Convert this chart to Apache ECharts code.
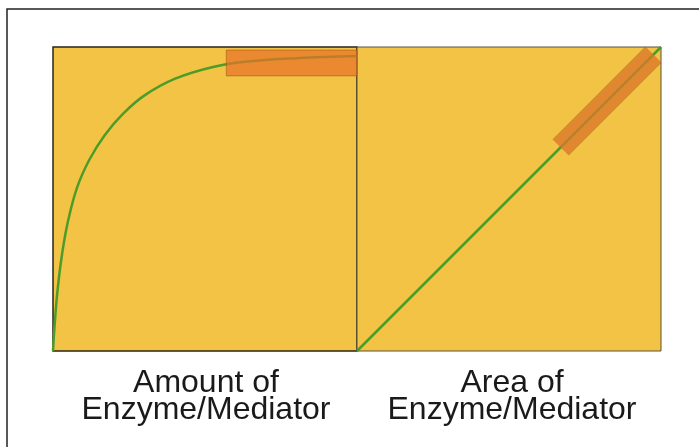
<!DOCTYPE html>
<html>
<head>
<meta charset="utf-8">
<script src="https://cdn.jsdelivr.net/npm/echarts@6/dist/echarts.min.js"></script>
<style>
html, body { margin: 0; padding: 0; background: #fff; }
#chart { width: 699px; height: 447px; }
</style>
</head>
<body>
<div id="chart"></div>
<script>
// saturation curve (left panel), values in % of axis
var curveX = [0, 0.5, 1.5, 3, 5, 8, 12, 17, 23, 30, 40, 53, 65, 80, 100]
var curveY = [0, 8, 20, 32, 43, 54, 63, 71, 78, 84, 89.5, 93.5, 95.3, 96.3, 97]
// linear response (right panel)
var lineX = [0, 100]
var lineY = [0, 100]
// highlighted ranges
var bandLeft = [[57, 90.5], [100, 99]]
var bandRight = [[67, 67], [97.5, 97.5]]
var labels = [['Amount of', 'Enzyme/Mediator'], ['Area of', 'Enzyme/Mediator']]

var yellow = '#F2C344'
var green = '#4C9C2A'
var orange = 'rgba(230,115,40,0.72)'

function zip (xs, ys) {
  return xs.map(function (x, i) { return [x, ys[i]] })
}

var chart = echarts.init(document.getElementById('chart'))

function axisPair (idx) {
  return {
    x: { type: 'value', gridIndex: idx, min: 0, max: 100, show: false },
    y: { type: 'value', gridIndex: idx, min: 0, max: 100, show: false }
  }
}
var a0 = axisPair(0)
var a1 = axisPair(1)

var option = {
  animation: false,
  grid: [
    { left: 53, top: 47, width: 304, height: 304, show: true, backgroundColor: yellow, borderColor: '#2b2418', borderWidth: 1.5 },
    { left: 357, top: 47, width: 304, height: 304, show: true, backgroundColor: yellow, borderColor: '#5a5040', borderWidth: 1 }
  ],
  xAxis: [a0.x, a1.x],
  yAxis: [a0.y, a1.y],
  graphic: [
    { type: 'rect', shape: { x: 7, y: 9, width: 720, height: 460 }, style: { fill: 'none', stroke: '#222', lineWidth: 1.5 }, z: 100 }
  ],
  series: [
    {
      type: 'line',
      xAxisIndex: 0,
      yAxisIndex: 0,
      data: zip(curveX, curveY),
      smooth: 0.4,
      symbol: 'none',
      lineStyle: { color: green, width: 2.5 },
      z: 2
    },
    {
      type: 'custom',
      xAxisIndex: 0,
      yAxisIndex: 0,
      data: [0],
      renderItem: function (params, api) {
        var p1 = api.coord(bandLeft[0])
        var p2 = api.coord(bandLeft[1])
        return {
          type: 'rect',
          shape: { x: p1[0], y: p2[1], width: p2[0] - p1[0], height: p1[1] - p2[1] },
          style: { fill: orange, stroke: 'rgba(150,80,20,0.5)', lineWidth: 1 }
        }
      },
      z: 3
    },
    {
      type: 'line',
      xAxisIndex: 1,
      yAxisIndex: 1,
      data: zip(lineX, lineY),
      symbol: 'none',
      lineStyle: { color: green, width: 2.5 },
      z: 2
    },
    {
      type: 'line',
      xAxisIndex: 1,
      yAxisIndex: 1,
      data: bandRight,
      symbol: 'none',
      clip: false,
      lineStyle: { color: 'rgba(160,80,20,0.45)', width: 23, cap: 'butt' },
      z: 3
    },
    {
      type: 'line',
      xAxisIndex: 1,
      yAxisIndex: 1,
      data: bandRight,
      symbol: 'none',
      clip: false,
      lineStyle: { color: 'rgba(236,130,50,0.6)', width: 21, cap: 'butt' },
      z: 4
    }
  ]
}

var centers = [206, 512]
labels.forEach(function (pair, i) {
  pair.forEach(function (txt, j) {
    option.graphic.push({
      type: 'text',
      x: centers[i],
      y: 383 + j * 27,
      style: {
        text: txt,
        font: '32px "Liberation Sans", Arial, sans-serif',
        fill: '#1a1a1a',
        align: 'center',
        verticalAlign: 'middle'
      }
    })
  })
})

chart.setOption(option)
</script>
</body>
</html>
